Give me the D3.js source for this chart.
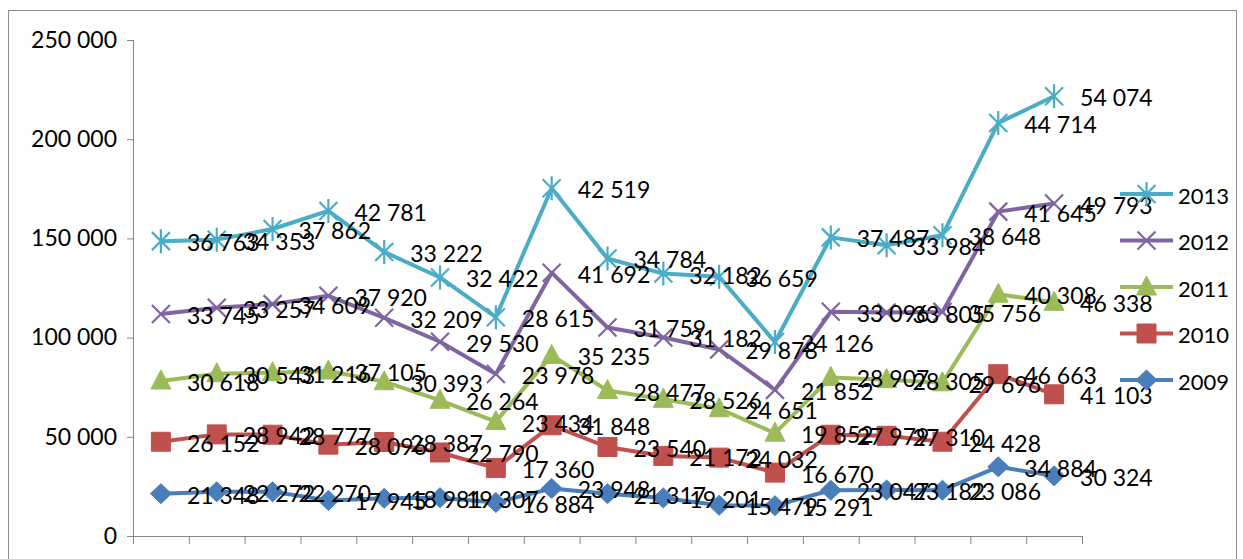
<!DOCTYPE html>
<html>
<head>
<meta charset="utf-8">
<script src="https://cdn.jsdelivr.net/npm/d3@7"></script>
<style>
  body { margin: 0; background: #fff; }
  svg { display: block; }
  text { font-family: Lato, "Open Sans", sans-serif; fill: #000; }
</style>
</head>
<body>
<div id="chart"></div>
<script>
let categories = ["1", "2", "3", "4", "5", "6", "7", "8", "9", "10", "11", "12", "13", "14", "15", "16", "17"];
let years = ["2009", "2010", "2011", "2012", "2013"];
let v2009 = [21348, 22272, 22270, 17945, 18981, 19307, 16884, 23948, 21317, 19201, 15479, 15291, 23047, 23182, 23086, 34884, 30324];
let v2010 = [26152, 28942, 28777, 28096, 28387, 22790, 17360, 31848, 23540, 21172, 24032, 16670, 27979, 27310, 24428, 46663, 41103];
let v2011 = [30618, 30543, 31216, 37105, 30393, 26264, 23434, 35235, 28477, 28526, 24651, 19852, 28907, 28305, 29696, 40308, 46338];
let v2012 = [33745, 33257, 34609, 37920, 32209, 29530, 23978, 41692, 31759, 31182, 29878, 21852, 33096, 33805, 35756, 41645, 49793];
let v2013 = [36763, 34353, 37862, 42781, 33222, 32422, 28615, 42519, 34784, 32182, 36659, 24126, 37487, 33984, 38648, 44714, 54074];
let yTicks = [0, 50000, 100000, 150000, 200000, 250000];

let colors = { "2009": "#4A7EBB", "2010": "#C0504D", "2011": "#9BBB59", "2012": "#8064A2", "2013": "#4BACC6" };
let markers = { "2009": "diamond", "2010": "square", "2011": "triangle", "2012": "cross", "2013": "star" };

let W = 1243, H = 559;
let margin = { "top": 40, "bottom": 23, "left": 133, "right": 161 };
let width = W - margin.left - margin.right;
let height = H - margin.top - margin.bottom;

let rows = categories.map(function (c, i) {
    return { cat: c, "2009": v2009[i], "2010": v2010[i], "2011": v2011[i], "2012": v2012[i], "2013": v2013[i] };
});
let stacked = d3.stack().keys(years)(rows);

let svg = d3.select('#chart').append('svg')
    .attr('width', W)
    .attr('height', H);

// chart border
svg.append('rect')
    .attr('x', 8.5).attr('y', 10.5)
    .attr('width', 1228).attr('height', 580)
    .attr('fill', 'none')
    .attr('stroke', '#8c8c8c')
    .attr('stroke-width', 1);

let g = svg.append('g')
    .attr('transform', 'translate(' + margin.left + ',' + margin.top + ')');

let xScale = d3.scaleBand().domain(categories).range([0, width]);
let yScale = d3.scaleLinear().domain([0, 250000]).range([height, 0]);
let xc = function (c) { return xScale(c) + xScale.bandwidth() / 2; };

// y axis
let yAxis = d3.axisLeft(yScale)
    .tickValues(yTicks)
    .tickSize(6)
    .tickPadding(10)
    .tickFormat(function (d) { return d3.format(',')(d).replace(/,/g, ' '); });
let ya = g.append('g').call(yAxis);
ya.selectAll('text').style('font-size', '23px').attr('fill', '#000');
ya.selectAll('line, path').attr('stroke', '#868686');
ya.select('.domain').attr('d', 'M0.5,0V' + height);

// x axis
let xAxis = d3.axisBottom(xScale).tickSize(0).tickFormat('');
let xa = g.append('g')
    .attr('transform', 'translate(0,' + height + ')')
    .call(xAxis);
xa.select('.domain').attr('stroke', '#868686');
xa.selectAll('.tick').remove();
xa.selectAll('.btick')
    .data(d3.range(categories.length + 1))
    .enter().append('line')
    .attr('class', 'btick')
    .attr('x1', function (i) { return i * xScale.step() + 0.5; })
    .attr('x2', function (i) { return i * xScale.step() + 0.5; })
    .attr('y1', 0).attr('y2', 8)
    .attr('stroke', '#868686');

function markerPath(type) {
    if (type === 'diamond') return 'M0,-10L10.5,0L0,10L-10.5,0Z';
    if (type === 'square') return 'M-9.5,-9.5H9.5V9.5H-9.5Z';
    if (type === 'triangle') return 'M0,-11L10,8L-10,8Z';
    if (type === 'cross') return 'M-9,-9L9,9M9,-9L-9,9';
    return 'M-9,-9L9,9M9,-9L-9,9M0,-12V12';
}

function drawMarker(sel, key) {
    let t = markers[key];
    if (t === 'cross' || t === 'star') {
        sel.append('path').attr('d', markerPath(t))
            .attr('fill', 'none').attr('stroke', colors[key]).attr('stroke-width', 2.2);
    } else {
        sel.append('path').attr('d', markerPath(t))
            .attr('fill', colors[key]).attr('stroke', colors[key]).attr('stroke-width', 1);
    }
}

let line = d3.line()
    .x(function (d) { return xc(d.data.cat); })
    .y(function (d) { return yScale(d[1]); });

stacked.forEach(function (s) {
    let key = s.key;
    let sg = g.append('g');
    sg.append('path')
        .attr('d', line(s))
        .attr('fill', 'none')
        .attr('stroke', colors[key])
        .attr('stroke-width', 4)
        .attr('stroke-linejoin', 'round');
    sg.selectAll('.mk')
        .data(s)
        .enter().append('g')
        .attr('class', 'mk')
        .attr('transform', function (d) { return 'translate(' + xc(d.data.cat) + ',' + yScale(d[1]) + ')'; })
        .each(function () { drawMarker(d3.select(this), key); });
});

// data labels
stacked.forEach(function (s) {
    g.append('g').selectAll('text')
        .data(s)
        .enter().append('text')
        .attr('x', function (d) { return xc(d.data.cat) + 26; })
        .attr('y', function (d) { return yScale(d[1]) + 1; })
        .attr('dominant-baseline', 'central')
        .style('font-size', '23px')
        .text(function (d) { return d3.format(',')(d[1] - d[0]).replace(/,/g, ' '); });
});

// legend
let legend = svg.append('g').attr('transform', 'translate(1120,0)');
years.slice().reverse().forEach(function (key, i) {
    let lg = legend.append('g').attr('transform', 'translate(0,' + (194 + i * 46.5) + ')');
    lg.append('line')
        .attr('x1', 0).attr('x2', 53)
        .attr('stroke', colors[key]).attr('stroke-width', 4);
    let m = lg.append('g').attr('transform', 'translate(26.5,0)');
    drawMarker(m, key);
    lg.append('text')
        .attr('x', 58).attr('y', 1)
        .attr('dominant-baseline', 'central')
        .style('font-size', '22px')
        .text(key);
});
</script>
</body>
</html>
